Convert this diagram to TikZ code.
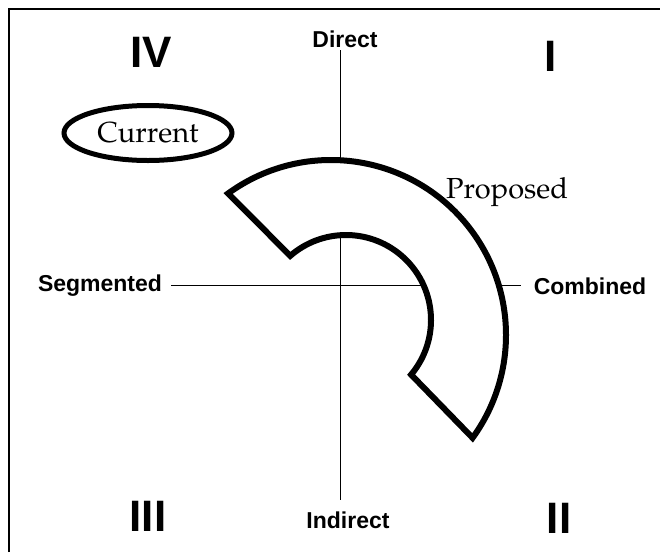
\documentclass[tikz,border=0pt]{standalone}
\usepackage{fontspec}
\setsansfont{Liberation Sans}
\newfontfamily\bookfont{TeX Gyre Pagella}
\usetikzlibrary{calc, shapes.geometric}

\begin{document}
\begin{tikzpicture}[
        x=1pt, y=-1pt,
        % Etiquettes des axes
        axislabel/.style={font=\sffamily\bfseries\fontsize{23}{23}\selectfont, inner sep=3pt, anchor=base},
        % Numeros des quadrants
        quadrant/.style={font=\sffamily\bfseries\fontsize{44}{44}\selectfont, inner sep=0pt, anchor=base},
        % Textes en serif
        caption/.style={font=\bookfont\fontsize{29}{29}\selectfont, anchor=base},
        current/.style={ellipse, draw, line width=5pt, minimum width=168pt, minimum height=55pt, inner sep=2pt, font=\bookfont\fontsize{29}{29}\selectfont},
        % Traits
        axisline/.style={line width=0.8pt},
        band/.style={line width=6pt, fill=white, line join=miter}
    ]
    \useasboundingbox (0,0) rectangle (660,552);

    % --- CADRE ---
    \draw[line width=2pt] (9,552) -- (9,9) -- (660,9);

    % --- AXES ---
    \coordinate (o) at (340,285);
    \node[axislabel] (dir) at (345,47) {Direct};
    \node[axislabel] (ind) at (348,528) {Indirect};
    \node[axislabel] (seg) at (100,291) {Segmented};
    \node[axislabel] (comb) at (590,294) {Combined};
    \draw[axisline, shorten >=8pt] (dir.south -| o) -- (ind.north -| o);
    \draw[axisline, shorten <=6pt, shorten >=10pt] (seg.east |- o) -- (comb.west |- o);

    % --- QUADRANTS ---
    \node[quadrant] (q4) at (151,67) {IV};
    \node[quadrant] (q1) at (551,71) {I};
    \node[quadrant] (q3) at (148,531) {III};
    \node[quadrant] (q2) at (559,533) {II};

    % --- SITUATION ACTUELLE ---
    \node[current] (cur) at (148,133) {Current};

    % --- SITUATION PROPOSEE ---
    \coordinate (co) at (331,335);
    \coordinate (ci) at (346,320);
    \draw[band] ($(co)+(-126:175)$) arc[start angle=-126, end angle=36, radius=175]
        -- ($(ci)+(40:85)$) arc[start angle=40, end angle=-131, radius=85] -- cycle;
    \node[caption] (prop) at (507,198) {Proposed};

\end{tikzpicture}
\end{document}
